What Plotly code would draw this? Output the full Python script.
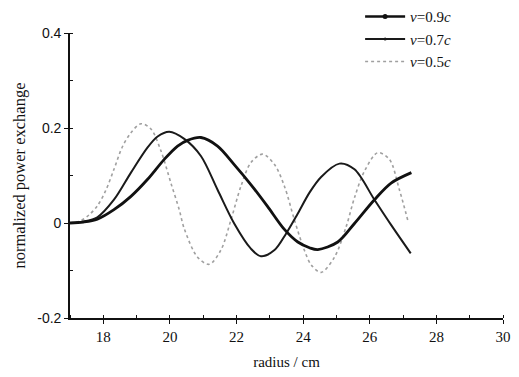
import plotly.graph_objects as go

# v = 0.5c : radius (cm) and normalized power exchange
r_05 = [17.0, 17.3, 17.57, 17.82, 18.07, 18.32, 18.57, 18.83, 19.13, 19.43, 19.73, 20.03, 20.28,
        20.43, 20.83, 21.18, 21.53, 21.83, 22.13, 22.43, 22.78, 23.14, 23.44, 23.74, 24.04, 24.24,
        24.54, 24.94, 25.29, 25.54, 25.84, 26.24, 26.59, 26.89, 27.14]
p_05 = [0.0, 0.004, 0.017, 0.036, 0.068, 0.113, 0.16, 0.19, 0.209, 0.198, 0.152, 0.084, 0.028,
        -0.012, -0.072, -0.087, -0.057, 0.006, 0.077, 0.127, 0.145, 0.123, 0.077, 0.006, -0.058, -0.088,
        -0.104, -0.072, -0.008, 0.053, 0.109, 0.148, 0.134, 0.07, 0.006]

# v = 0.7c
r_07 = [17.0, 17.4, 17.82, 18.32, 18.83, 19.33, 19.63, 19.98, 20.43, 20.93, 21.43, 21.93, 22.43,
        22.73, 23.14, 23.49, 23.84, 24.19, 24.54, 25.09, 25.54, 26.14, 26.64, 27.23]
p_07 = [0.0, 0.003, 0.012, 0.049, 0.106, 0.159, 0.182, 0.192, 0.177, 0.141, 0.07, -0.001, -0.054,
        -0.07, -0.057, -0.022, 0.02, 0.064, 0.097, 0.125, 0.113, 0.049, -0.004, -0.064]

# v = 0.9c
r_09 = [17.0, 17.4, 17.82, 18.32, 18.83, 19.33, 19.83, 20.23, 20.53, 20.93, 21.43, 21.93, 22.43,
        22.93, 23.43, 23.84, 24.19, 24.44, 25.04, 25.54, 26.14, 26.64, 27.25]
p_09 = [0.0, 0.002, 0.008, 0.028, 0.056, 0.092, 0.134, 0.162, 0.174, 0.18, 0.162, 0.123, 0.081,
        0.035, -0.013, -0.04, -0.052, -0.056, -0.04, -0.001, 0.049, 0.084, 0.106]

names = ["<i>v</i>=0.9<i>c</i>", "<i>v</i>=0.7<i>c</i>", "<i>v</i>=0.5<i>c</i>"]

x_ticks = [18, 20, 22, 24, 26, 28, 30]
y_ticks = [-0.2, 0, 0.2, 0.4]
y_tick_text = ["-0.2", "0", "0.2", "0.4"]

fig = go.Figure()

# curves
fig.add_trace(go.Scatter(x=r_05, y=p_05, mode="lines", line=dict(color="#a0a0a0", width=1.6, dash="dot", shape="spline", smoothing=0.9), showlegend=False))
fig.add_trace(go.Scatter(x=r_07, y=p_07, mode="lines", line=dict(color="#1a1a1a", width=2.0, shape="spline", smoothing=0.9), showlegend=False))
fig.add_trace(go.Scatter(x=r_09, y=p_09, mode="lines", line=dict(color="#111111", width=2.8, shape="spline", smoothing=0.9), showlegend=False))

# legend entries
fig.add_trace(go.Scatter(x=[None], y=[None], mode="lines+markers", name=names[0],
                         line=dict(color="#111111", width=2.4), marker=dict(size=5, color="#111111")))
fig.add_trace(go.Scatter(x=[None], y=[None], mode="lines+markers", name=names[1],
                         line=dict(color="#1a1a1a", width=1.8), marker=dict(size=3, color="#1a1a1a")))
fig.add_trace(go.Scatter(x=[None], y=[None], mode="lines", name=names[2],
                         line=dict(color="#a0a0a0", width=1.6, dash="dot")))

serif = "Liberation Serif"
sans = "Liberation Sans"

fig.update_layout(
    width=519, height=377,
    margin=dict(l=70, r=16, t=33, b=59, autoexpand=False),
    paper_bgcolor="white", plot_bgcolor="white",
    showlegend=True,
    legend=dict(x=0.67, y=1.115, xanchor="left", yanchor="top",
                bgcolor="rgba(0,0,0,0)",
                font=dict(family=serif, size=15, color="#111"), tracegroupgap=0,
                itemwidth=40),
    xaxis=dict(range=[17, 30], tickvals=x_ticks, showgrid=False, zeroline=False,
               showline=True, linecolor="#111", linewidth=1.6,
               ticks="outside", ticklen=4, tickwidth=1.4, tickcolor="#111",
               minor=dict(dtick=1, ticks="inside", ticklen=3, tickwidth=1.2, tickcolor="#111"),
               tickfont=dict(family=serif, size=15, color="#111"),
               title=dict(text="radius / cm", font=dict(family=serif, size=15, color="#111"), standoff=13)),
    yaxis=dict(range=[-0.2, 0.4], tickvals=y_ticks, ticktext=y_tick_text, showgrid=False, zeroline=False,
               showline=True, linecolor="#111", linewidth=1.6,
               ticks="outside", ticklen=4, tickwidth=1.4, tickcolor="#111",
               minor=dict(dtick=0.1, ticks="inside", ticklen=3, tickwidth=1.2, tickcolor="#111"),
               tickfont=dict(family=sans, size=14, color="#111"),
               title=dict(text="normalized power exchange", font=dict(family=serif, size=16.5, color="#111"), standoff=8)),
)

fig.write_html("out.html", config={"displayModeBar": False},
               post_script="document.body.style.margin='0';")
